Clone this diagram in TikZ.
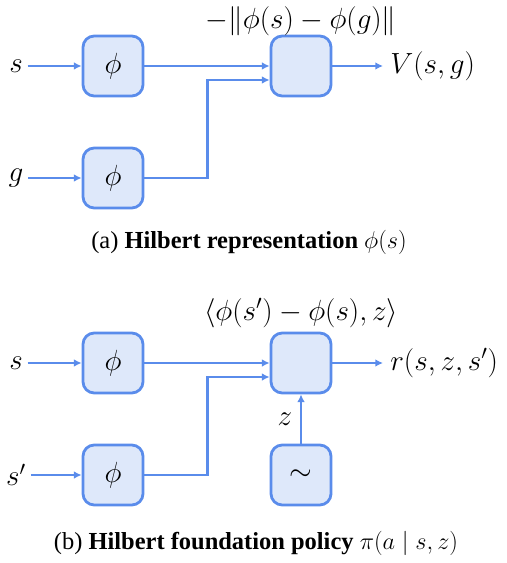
\documentclass[tikz,border=0pt]{standalone}
\usepackage{fontspec}
\setmainfont{Liberation Serif}
\usepackage{amsmath}
\usetikzlibrary{arrows.meta, positioning}
\definecolor{EdgeBlue}{RGB}{90,140,235}
\definecolor{BoxFill}{RGB}{222,232,250}

\begin{document}
\begin{tikzpicture}[
    x=0.025cm, y=-0.025cm,
    every node/.style={font=\fontsize{22}{26}\selectfont},
    blk/.style={draw=EdgeBlue, fill=BoxFill, line width=2pt, rounded corners=8pt, minimum width=1.5cm, minimum height=1.5cm, inner sep=0pt},
    wire/.style={EdgeBlue, line width=2pt, -{Latex[length=5.5pt, width=5.5pt]}},
    outlbl/.style={anchor=west, inner sep=5pt},
    captxt/.style={font=\fontsize{17.4}{20}\selectfont}
]
\useasboundingbox (0,0) rectangle (506,563);

% (a) value function
\node (sa) at (16,66) {$s$};
\node (ga) at (16,178) {$g$};
\node[blk] (phisa) at (113,66) {$\phi$};
\node[blk] (phiga) at (113,178) {$\phi$};
\node[blk] (dista) at (301,66) {};
\node[inner sep=1pt] (distlbl) at (301,21) {$-\|\phi(s) - \phi(g)\|$};
\node[outlbl] (vala) at (383,66) {$V(s, g)$};
\draw[wire] (sa) -- (phisa);
\draw[wire] (ga) -- (phiga);
\draw[wire] (phisa) -- (dista);
\draw[wire] (phiga.east) -- ++(63,0) |- ([yshift=-0.35cm]dista.west);
\draw[wire] (dista) -- (vala);
\node[captxt] (capa) at (249,242) {(a) \textbf{Hilbert representation} $\phi(s)$};

% (b) foundation policy
\node (sb) at (16,363) {$s$};
\node (spb) at (16,475) {$s'$};
\node[blk] (phisb) at (113,363) {$\phi$};
\node[blk] (phispb) at (113,475) {$\phi$};
\node[blk] (rewb) at (301,363) {};
\node[blk] (noiseb) at (301,475) {$\sim$};
\node[inner sep=1pt] (rewlbl) at (301,313) {$\langle \phi(s') - \phi(s), z \rangle$};
\node[outlbl] (rb) at (383,363) {$r(s, z, s')$};
\draw[wire] (sb) -- (phisb);
\draw[wire] (spb) -- (phispb);
\draw[wire] (phisb) -- (rewb);
\draw[wire] (phispb.east) -- ++(63,0) |- ([yshift=-0.35cm]rewb.west);
\draw[wire] (noiseb) -- (rewb) node[midway, left=2pt, text=black] {$z$};
\draw[wire] (rewb) -- (rb);
\node[captxt] (capb) at (256,543) {(b) \textbf{Hilbert foundation policy} $\pi(a \mid s, z)$};
\end{tikzpicture}
\end{document}
